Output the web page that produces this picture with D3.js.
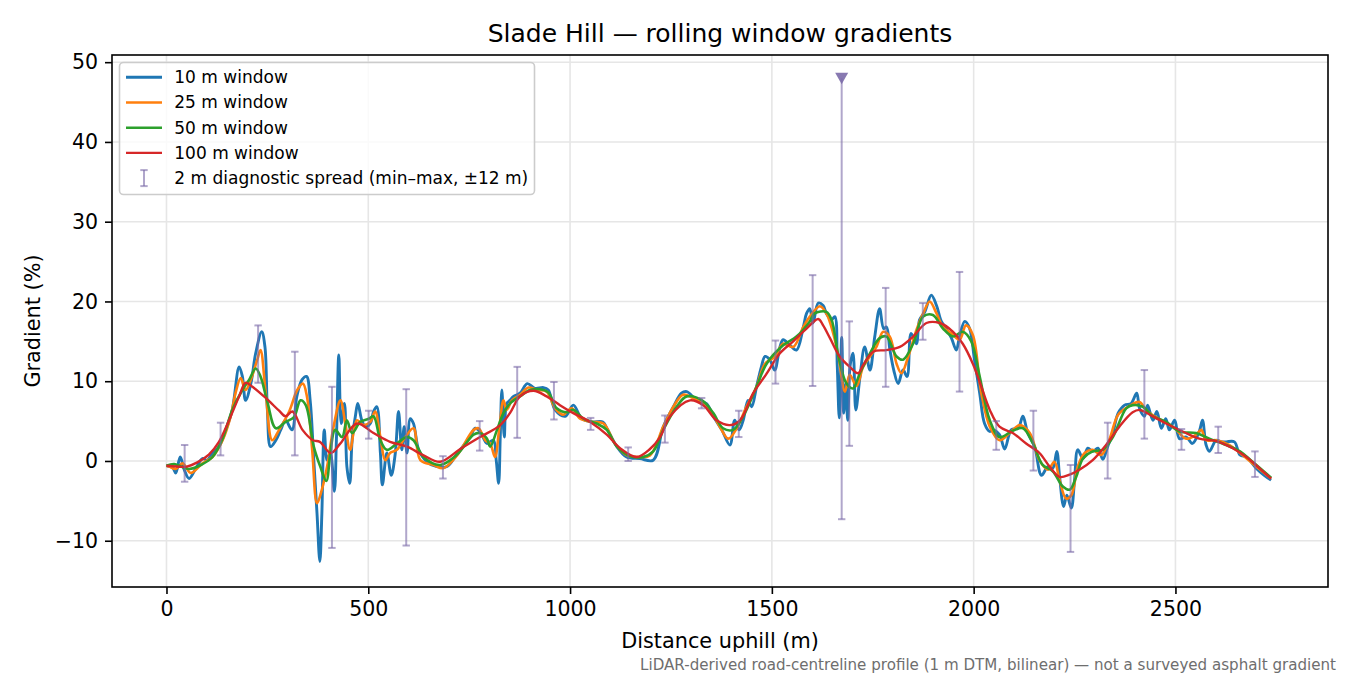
<!DOCTYPE html>
<html>
<head>
<meta charset="utf-8">
<script src="https://cdn.jsdelivr.net/npm/d3@7"></script>
<style>
  html, body { margin: 0; padding: 0; background: #fff; }
  svg { display: block; font-family: "DejaVu Sans", sans-serif; }
</style>
</head>
<body>
<svg id="chart" width="1350" height="675"></svg>
<script>
// ---------------- DATA ----------------
const titleText = "Slade Hill \u2014 rolling window gradients";
const xLabelText = "Distance uphill (m)";
const yLabelText = "Gradient (%)";
const footnoteText = "LiDAR-derived road-centreline profile (1 m DTM, bilinear) \u2014 not a surveyed asphalt gradient";

const seriesNames = ["10 m window", "25 m window", "50 m window", "100 m window"];
const spreadName = "2 m diagnostic spread (min\u2013max, \u00b112 m)";

const xTicks = [0, 500, 1000, 1500, 2000, 2500];
const yTicks = [-10, 0, 10, 20, 30, 40, 50];

const dist10 = [0,15,23,34,44,56,73,89,101,114,130,147,163,180,188,196,209,221,236,244,250,258,271,283,295,311,323,336,347,356,365,373,380,385,391,398,406,416,421,427,433,441,447,454,460,468,474,484,493,505,513,521,530,535,546,557,567,575,583,589,596,604,612,625,645,670,695,720,752,765,777,794,810,817,823,827,831,837,843,851,860,876,894,913,934,946,963,988,1008,1029,1054,1081,1091,1116,1140,1173,1206,1231,1256,1276,1289,1314,1338,1355,1376,1396,1408,1419,1429,1441,1450,1462,1474,1483,1495,1507,1520,1528,1545,1561,1578,1586,1594,1602,1615,1627,1635,1648,1656,1662,1667,1673,1678,1683,1688,1694,1701,1708,1718,1730,1743,1755,1767,1777,1784,1792,1802,1813,1825,1835,1845,1858,1866,1879,1895,1908,1920,1932,1945,1957,1965,1978,1990,2002,2015,2027,2040,2048,2064,2077,2093,2110,2122,2134,2151,2168,2184,2196,2206,2213,2223,2231,2242,2250,2258,2271,2283,2295,2308,2320,2332,2345,2358,2374,2390,2404,2411,2423,2431,2444,2454,2465,2476,2485,2498,2510,2527,2542,2559,2567,2576,2584,2601,2614,2626,2646,2660,2676,2700,2720,2737];
const grad10 = [-0.6,-0.8,-1.5,0.5,-1.1,-2.2,-0.9,0.3,0.1,1.0,1.8,3.9,6.4,11.8,10.6,7.6,9.7,13.5,16.2,14.3,6.4,1.8,2.6,3.9,5.1,3.9,8.1,10.2,10.6,7.6,0.1,-6.6,-12.6,-6.6,3.9,0.1,1.0,-3.8,2.6,13.3,4.7,7.2,-0.7,-2.8,2.6,5.6,7.2,5.1,4.3,4.7,6.2,6.8,1.0,-3.0,1.0,-1.8,1.0,6.2,1.4,4.3,1.0,5.3,4.7,1.4,-0.1,-0.7,-0.7,0.9,3.0,4.1,3.7,2.2,2.6,0.1,-2.8,3.0,8.9,3.0,7.2,7.6,8.1,8.5,9.7,9.1,9.2,8.9,6.4,5.6,7.0,5.3,4.9,4.9,4.1,1.8,0.5,0.3,0.1,4.3,6.8,8.5,8.7,7.6,7.2,5.6,3.9,2.0,5.1,3.9,5.1,7.6,6.8,9.3,11.8,13.1,12.7,11.4,14.3,15.2,14.5,13.9,16.8,18.5,19.1,17.3,19.8,19.5,18.5,17.7,18.1,12.0,5.4,15.5,6.0,9.7,5.1,12.0,13.5,6.4,10.4,14.3,11.4,15.6,19.1,16.6,16.8,14.1,11.4,9.7,11.4,10.6,16.0,14.7,17.7,18.7,20.8,19.5,17.5,16.6,15.4,13.9,15.6,17.5,16.6,12.7,8.5,4.7,3.7,3.9,3.3,1.5,3.9,4.1,5.6,3.5,1.8,-1.8,-0.7,-0.9,1.2,-2.0,-5.7,-4.3,-5.9,-2.4,1.4,0.3,1.6,1.2,1.6,0.2,1.8,3.5,6.0,7.0,7.2,8.5,6.6,5.6,7.0,5.1,6.2,4.1,5.3,3.9,5.1,2.8,3.0,2.2,3.7,5.1,2.0,1.2,2.6,2.4,2.4,2.4,0.75,0.5,-0.9,-1.8,-2.4];

const dist25 = [0,7,23,40,60,89,114,139,159,172,184,196,209,225,233,246,262,279,304,324,338,348,361,373,385,398,414,431,443,455,472,488,505,517,530,542,554,571,592,612,629,662,686,720,761,773,790,802,814,825,835,843,856,876,897,918,942,963,983,1004,1025,1054,1083,1111,1140,1173,1198,1231,1256,1280,1305,1330,1347,1371,1392,1413,1437,1462,1483,1508,1528,1553,1578,1594,1619,1635,1652,1665,1681,1693,1710,1726,1743,1759,1776,1792,1809,1821,1838,1858,1875,1891,1908,1924,1945,1965,1981,1998,2019,2040,2064,2089,2114,2139,2163,2184,2200,2213,2229,2242,2258,2275,2295,2316,2337,2358,2386,2411,2427,2448,2473,2498,2527,2551,2564,2576,2601,2634,2660,2691,2737];
const grad25 = [-0.6,-0.7,-1.0,-0.3,-1.5,-0.3,0.5,2.6,5.6,8.7,10.4,8.9,10.2,12.7,13.9,8.5,2.6,3.9,6.2,8.9,9.7,8.1,1.4,-5.3,-3.6,-0.7,4.3,7.6,4.7,1.4,5.1,4.5,4.9,6.2,3.0,0.1,1.0,1.4,3.0,4.1,0.1,-0.5,-0.9,0.7,3.9,4.1,2.6,2.2,0.5,4.3,7.6,6.4,7.6,8.3,9.2,8.9,8.7,6.6,5.8,6.6,5.3,4.9,4.7,2.2,0.75,0.5,0.7,4.3,6.8,8.3,7.9,7.4,6.4,4.3,2.8,4.1,6.8,9.3,12.2,13.1,14.7,14.3,16.8,18.1,19.4,18.5,16.0,13.1,8.7,10.8,9.4,11.8,13.1,14.3,16.2,15.6,12.2,11.0,13.1,16.4,18.5,20.0,18.5,16.8,16.0,15.2,17.0,15.8,8.5,4.3,2.6,3.5,4.5,3.5,0.1,-1.1,-0.1,-2.4,-4.7,-4.3,-0.7,1.0,1.4,0.75,2.8,5.8,6.9,7.4,6.4,5.6,4.9,4.1,2.8,3.3,3.9,2.6,2.6,2.0,1.0,-0.3,-2.2];

const dist50 = [0,19,56,89,114,139,163,188,205,221,233,250,271,295,316,332,345,365,381,396,406,418,435,447,460,480,501,513,530,546,571,596,612,637,678,720,761,777,794,802,819,835,851,876,901,926,946,967,992,1008,1033,1066,1091,1116,1149,1181,1206,1231,1264,1289,1327,1355,1379,1404,1429,1462,1487,1528,1561,1594,1606,1635,1648,1665,1685,1701,1718,1743,1767,1784,1809,1825,1850,1875,1899,1924,1949,1973,1994,2015,2040,2064,2097,2122,2147,2171,2196,2221,2238,2254,2271,2295,2320,2345,2378,2394,2419,2444,2477,2510,2551,2584,2626,2660,2691,2737];
const grad50 = [-0.6,-0.4,-1.0,-0.4,0.5,2.8,6.4,8.9,10.2,11.6,10.6,7.4,4.1,4.9,5.5,7.6,7.0,1.8,-0.7,-2.5,1.0,3.9,3.0,5.1,3.5,4.9,5.3,5.6,2.6,1.4,2.2,3.0,2.6,0.5,-0.5,0.8,3.3,3.5,2.8,1.8,3.9,6.0,7.2,8.1,8.9,9.0,8.6,6.6,6.1,6.4,5.3,4.7,3.9,1.8,0.6,0.5,1.2,3.9,6.8,8.1,7.6,6.0,4.1,3.9,5.6,9.3,12.2,14.5,15.6,17.5,18.5,18.7,17.7,13.1,9.7,9.1,11.0,13.5,15.4,15.6,13.1,12.7,14.7,18.1,18.3,16.6,15.6,16.2,15.0,10.6,5.1,3.0,3.8,4.1,2.2,-0.5,-1.3,-3.2,-3.6,-2.0,0.3,1.2,1.4,3.0,6.6,7.0,6.8,5.6,4.9,3.7,3.5,2.8,2.0,1.2,-0.1,-2.1];

const dist100 = [0,25,50,75,105,130,155,180,196,213,246,279,295,312,337,363,380,407,431,472,513,554,596,637,678,728,777,827,851,876,909,942,975,1008,1050,1091,1124,1165,1198,1223,1248,1297,1330,1363,1396,1421,1454,1485,1520,1553,1586,1615,1627,1644,1668,1693,1714,1726,1751,1784,1817,1850,1883,1916,1949,1973,1998,2015,2040,2064,2097,2130,2163,2188,2213,2238,2262,2295,2328,2361,2394,2411,2444,2477,2518,2559,2601,2642,2676,2708,2737];
const grad100 = [-0.6,-0.7,-0.7,-0.2,0.8,2.4,5.1,8.1,9.8,9.3,7.9,6.3,5.6,6.2,3.9,2.6,2.4,1.0,2.2,4.7,3.5,2.4,1.8,0.7,-0.1,1.5,3.0,4.5,6.0,8.1,8.8,8.1,7.0,6.0,4.9,3.3,1.6,0.5,1.5,3.0,5.6,7.6,7.0,5.1,4.5,5.1,8.5,10.8,13.5,15.0,16.6,17.8,17.0,15.4,13.1,11.8,11.0,12.0,13.7,13.9,14.3,15.6,17.3,17.3,16.2,14.7,12.2,9.9,6.4,4.3,3.5,2.2,1.0,-0.7,-2.0,-1.7,-1.1,0.1,2.0,4.3,6.1,6.4,5.6,4.7,3.7,2.8,2.5,1.6,0.5,-0.9,-2.2];

// 2 m diagnostic spread (min-max within +/-12 m)
const spreadDist = [45,134,227,318,410,501,594,685,776,869,960,1051,1144,1235,1326,1418,1509,1601,1673,1692,1782,1874,1965,2056,2148,2240,2332,2423,2515,2606,2697];
const spreadLo   = [-2.6,0.7,9.8,0.7,-10.9,2.8,-10.6,-2.2,1.3,2.9,5.2,3.9,0.0,2.3,6.6,3.0,9.7,9.4,-7.3,1.9,9.3,15.2,8.7,1.4,-1.2,-11.4,-2.2,2.8,1.4,1.0,-2.0];
const spreadHi   = [2.0,4.8,17.0,13.7,9.3,6.3,9.0,0.6,5.0,11.8,9.9,5.4,1.7,5.7,7.9,6.3,15.1,23.3,48.0,17.5,21.7,19.8,23.7,5.0,6.3,-0.5,4.8,11.4,4.0,4.3,1.2];
const spreadClip = 48; // bars reaching this value are clipped and flagged with a marker

// ---------------- LAYOUT ----------------
const W = 1350, H = 675;
const plot = { left: 112, right: 1328, top: 55, bottom: 587 };
const colors = ["#1f77b4", "#ff7f0e", "#2ca02c", "#d62728"];
const widths = [2.9, 2.6, 2.6, 2.4];
const spreadColor = "#7b6aa8";

const svg = d3.select("#chart");
const x = d3.scaleLinear().domain([-135, 2878]).range([plot.left, plot.right]);
const y = d3.scaleLinear().domain([-15.8, 50.9]).range([plot.bottom, plot.top]);

svg.append("defs").append("clipPath").attr("id", "clip")
  .append("rect").attr("x", plot.left).attr("y", plot.top)
  .attr("width", plot.right - plot.left).attr("height", plot.bottom - plot.top);

// grid
const grid = svg.append("g");
grid.selectAll("line.gx").data(xTicks).join("line")
  .attr("x1", d => x(d)).attr("x2", d => x(d))
  .attr("y1", plot.top).attr("y2", plot.bottom)
  .attr("stroke", "#e6e6e6").attr("stroke-width", 1.6);
grid.selectAll("line.gy").data(yTicks).join("line")
  .attr("y1", d => y(d)).attr("y2", d => y(d))
  .attr("x1", plot.left).attr("x2", plot.right)
  .attr("stroke", "#e6e6e6").attr("stroke-width", 1.6);

// series
const series = [
  { d: dist10, g: grad10 },
  { d: dist25, g: grad25 },
  { d: dist50, g: grad50 },
  { d: dist100, g: grad100 }
];
const lineGen = d3.line().x(p => x(p[0])).y(p => y(p[1])).curve(d3.curveCatmullRom.alpha(0.5));
const linesG = svg.append("g").attr("clip-path", "url(#clip)");
series.forEach((s, i) => {
  const pts = s.d.map((dv, k) => [dv, s.g[k]]);
  linesG.append("path").datum(pts)
    .attr("d", lineGen)
    .attr("fill", "none")
    .attr("stroke", colors[i])
    .attr("stroke-width", widths[i])
    .attr("stroke-linejoin", "round")
    .attr("stroke-linecap", "butt");
});

// error bars
const eb = svg.append("g").attr("clip-path", "url(#clip)");
const capHalf = 3.7;
spreadDist.forEach((dv, k) => {
  const cx = x(dv);
  const hi = Math.min(spreadHi[k], spreadClip);
  const clipped = spreadHi[k] >= spreadClip;
  eb.append("line").attr("x1", cx).attr("x2", cx)
    .attr("y1", y(spreadLo[k])).attr("y2", y(hi))
    .attr("stroke", spreadColor).attr("stroke-opacity", 0.6).attr("stroke-width", 2);
  eb.append("line").attr("x1", cx - capHalf).attr("x2", cx + capHalf)
    .attr("y1", y(spreadLo[k])).attr("y2", y(spreadLo[k]))
    .attr("stroke", spreadColor).attr("stroke-opacity", 0.6).attr("stroke-width", 2);
  if (!clipped) {
    eb.append("line").attr("x1", cx - capHalf).attr("x2", cx + capHalf)
      .attr("y1", y(hi)).attr("y2", y(hi))
      .attr("stroke", spreadColor).attr("stroke-opacity", 0.6).attr("stroke-width", 2);
  } else {
    const ty = y(hi);
    eb.append("path")
      .attr("d", `M${cx - 6.5},${ty - 5.5} L${cx + 6.5},${ty - 5.5} L${cx},${ty + 6} Z`)
      .attr("fill", spreadColor).attr("fill-opacity", 0.9);
  }
});

// axes frame
svg.append("rect").attr("x", plot.left).attr("y", plot.top)
  .attr("width", plot.right - plot.left).attr("height", plot.bottom - plot.top)
  .attr("fill", "none").attr("stroke", "#000").attr("stroke-width", 1.6);

// x axis
const xAxis = d3.axisBottom(x).tickValues(xTicks).tickSize(7).tickPadding(7)
  .tickFormat(d => d < 0 ? "\u2212" + Math.abs(d) : String(d));
const gx = svg.append("g").attr("transform", `translate(0,${plot.bottom})`).call(xAxis);
gx.select(".domain").remove();
gx.selectAll(".tick line").attr("stroke", "#000").attr("stroke-width", 1.6);
gx.selectAll(".tick text").attr("fill", "#000")
  .style("font-family", "DejaVu Sans").style("font-size", "20.5px");

// y axis
const yAxis = d3.axisLeft(y).tickValues(yTicks).tickSize(7).tickPadding(7)
  .tickFormat(d => d < 0 ? "\u2212" + Math.abs(d) : String(d));
const gy = svg.append("g").attr("transform", `translate(${plot.left},0)`).call(yAxis);
gy.select(".domain").remove();
gy.selectAll(".tick line").attr("stroke", "#000").attr("stroke-width", 1.6);
gy.selectAll(".tick text").attr("fill", "#000")
  .style("font-family", "DejaVu Sans").style("font-size", "20.5px");

// labels
svg.append("text").attr("x", (plot.left + plot.right) / 2).attr("y", 42)
  .attr("text-anchor", "middle").style("font-size", "25px").attr("fill", "#000")
  .text(titleText);
svg.append("text").attr("x", (plot.left + plot.right) / 2).attr("y", 647.5)
  .attr("text-anchor", "middle").style("font-size", "20.8px").attr("fill", "#000")
  .text(xLabelText);
svg.append("text").attr("transform", `translate(40,${(plot.top + plot.bottom) / 2}) rotate(-90)`)
  .attr("text-anchor", "middle").style("font-size", "20.8px").attr("fill", "#000")
  .text(yLabelText);
svg.append("text").attr("x", 1336).attr("y", 670)
  .attr("text-anchor", "end").style("font-size", "15.1px").attr("fill", "#6e6e6e")
  .text(footnoteText);

// legend
const lg = svg.append("g");
lg.append("rect").attr("x", 119.5).attr("y", 62.5).attr("width", 415).attr("height", 132)
  .attr("rx", 4).attr("fill", "#fff").attr("fill-opacity", 0.8)
  .attr("stroke", "#cccccc").attr("stroke-width", 1.6);
const rowY = [77.3, 102.5, 127.7, 152.9, 178.1];
seriesNames.forEach((name, i) => {
  lg.append("line").attr("x1", 126).attr("x2", 162).attr("y1", rowY[i]).attr("y2", rowY[i])
    .attr("stroke", colors[i]).attr("stroke-width", widths[i]);
  lg.append("text").attr("x", 174.3).attr("y", rowY[i] + 5.9)
    .style("font-size", "17px").attr("fill", "#000").text(name);
});
{
  const cy = rowY[4], cx = 144;
  lg.append("line").attr("x1", cx).attr("x2", cx).attr("y1", cy - 8).attr("y2", cy + 8)
    .attr("stroke", spreadColor).attr("stroke-opacity", 0.6).attr("stroke-width", 2);
  [cy - 8, cy + 8].forEach(v => lg.append("line")
    .attr("x1", cx - capHalf).attr("x2", cx + capHalf).attr("y1", v).attr("y2", v)
    .attr("stroke", spreadColor).attr("stroke-opacity", 0.6).attr("stroke-width", 2));
  lg.append("text").attr("x", 174.3).attr("y", cy + 5.9)
    .style("font-size", "17px").attr("fill", "#000").text(spreadName);
}
</script>
</body>
</html>
